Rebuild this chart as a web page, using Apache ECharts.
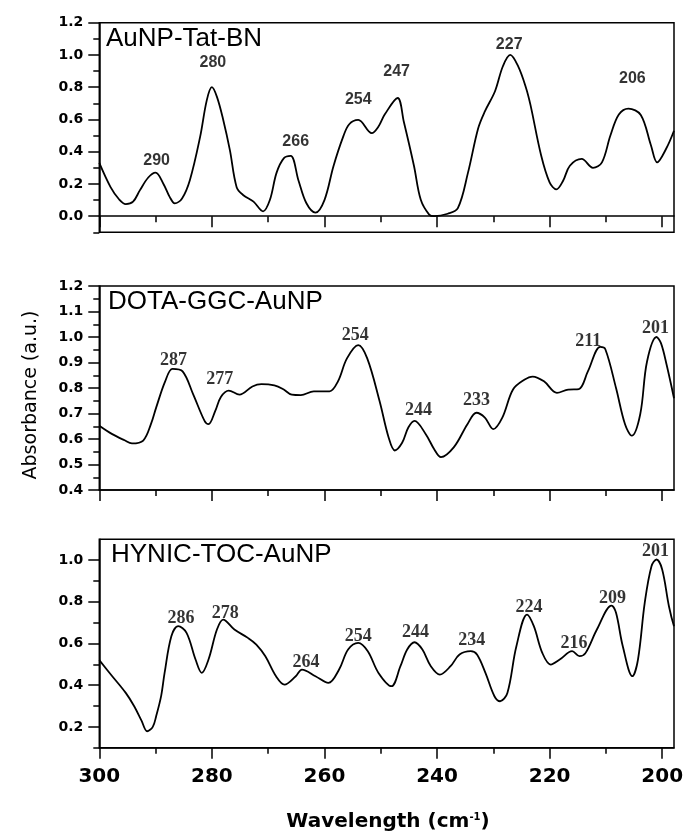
<!DOCTYPE html>
<html>
<head>
<meta charset="utf-8">
<script src="https://cdn.jsdelivr.net/npm/echarts@6/dist/echarts.min.js"></script>
<style>
  html, body { margin: 0; padding: 0; background: #fff; }
  #chart { width: 683px; height: 839px; }
</style>
</head>
<body>
<div id="chart"></div>
<script>
// Absorbance spectra, [wavelength, absorbance] pairs
const tatCurve = [
  [300, 0.33], [298, 0.18], [296.5, 0.105], [295.3, 0.075], [294, 0.09], [292.8, 0.16], [291.3, 0.24], [290, 0.27],
  [288.6, 0.2], [287.5, 0.12], [286.6, 0.08], [285.3, 0.11], [283.9, 0.225], [282.1, 0.49], [280.9, 0.72], [280, 0.8],
  [279.1, 0.74], [278, 0.6], [276.8, 0.41], [275.6, 0.18], [274.4, 0.13], [272.6, 0.09], [270.9, 0.03], [269.7, 0.1],
  [268.5, 0.27], [267.2, 0.36], [266, 0.374], [264.6, 0.22], [263.2, 0.08], [261.6, 0.022], [260, 0.1], [258.4, 0.31],
  [256.7, 0.49], [255.6, 0.57], [254, 0.597], [251.6, 0.515], [250.4, 0.556], [249.3, 0.63], [247, 0.733], [245.9, 0.586],
  [244.1, 0.313], [242.9, 0.103], [241.4, 0.01], [240.5, 0.0], [238.1, 0.015], [236.3, 0.05], [234.5, 0.27], [232.7, 0.544],
  [231.5, 0.65], [229.7, 0.775], [228.3, 0.93], [227, 1.0], [225.6, 0.93], [224.2, 0.797], [223.4, 0.69], [221.5, 0.376],
  [220, 0.21], [218.8, 0.166], [217.6, 0.22], [216.4, 0.313], [214.3, 0.355], [212.3, 0.3], [210.7, 0.334], [209.2, 0.5],
  [207.7, 0.63], [206, 0.667], [203.8, 0.628], [202, 0.44], [200.9, 0.334], [199.3, 0.418], [197.9, 0.53]
];
const dotaCurve = [
  [300, 0.652], [297.7, 0.619], [295.5, 0.595], [294.2, 0.583], [292.2, 0.594], [290.8, 0.66], [289.9, 0.723], [288.3, 0.826],
  [287, 0.875], [285.2, 0.865], [283.3, 0.774], [281.3, 0.671], [280.6, 0.658], [279.4, 0.71], [278.4, 0.765], [277, 0.79],
  [275.1, 0.774], [272.8, 0.806], [271.2, 0.815], [268.9, 0.81], [267.3, 0.795], [265.8, 0.774], [264.2, 0.772], [261.9, 0.787],
  [259.1, 0.787], [257.6, 0.826], [256, 0.916], [254, 0.968], [252.4, 0.916], [250.2, 0.748], [248.6, 0.606], [247.5, 0.555],
  [246.2, 0.585], [245.1, 0.645], [244, 0.671], [242, 0.619], [240.5, 0.56], [239.3, 0.529], [237, 0.568], [234.6, 0.658],
  [233, 0.703], [231.5, 0.684], [230, 0.639], [228.4, 0.684], [226.5, 0.794], [224.5, 0.832], [223, 0.845], [221, 0.826],
  [218.7, 0.781], [216.7, 0.794], [214.8, 0.796], [213.2, 0.865], [211, 0.961], [210.1, 0.952], [208.2, 0.8], [206.6, 0.658],
  [205.4, 0.613], [203.9, 0.697], [202.7, 0.903], [201, 1.0], [200.2, 0.975], [199.2, 0.89], [197.9, 0.76]
];
const hynicCurve = [
  [300, 0.52], [297.7, 0.443], [295.3, 0.363], [293.8, 0.299], [292.5, 0.23], [291.5, 0.179], [290.5, 0.2], [289.9, 0.251],
  [289, 0.35], [288.4, 0.459], [287.2, 0.635], [286, 0.683], [284.5, 0.651], [282.9, 0.523], [281.8, 0.459], [280.6, 0.523],
  [279.1, 0.667], [278, 0.715], [276, 0.667], [273.6, 0.627], [272.1, 0.595], [270.5, 0.539], [268.6, 0.443], [267.1, 0.403],
  [265.1, 0.443], [264, 0.475], [261.6, 0.443], [259.3, 0.411], [257.4, 0.475], [255.8, 0.571], [254, 0.603], [252.3, 0.563],
  [250.4, 0.459], [248.1, 0.395], [246.5, 0.491], [245.3, 0.571], [244, 0.606], [242.6, 0.571], [241.1, 0.491], [239.5, 0.451],
  [237.6, 0.491], [236, 0.547], [234, 0.563], [232.9, 0.547], [231.4, 0.459], [229.8, 0.347], [228.8, 0.323], [227.5, 0.363],
  [225.9, 0.587], [224, 0.739], [222.8, 0.683], [221.3, 0.555], [219.8, 0.499], [218.2, 0.523], [216, 0.563], [214.7, 0.539],
  [213.6, 0.555], [211.6, 0.667], [209, 0.782], [208.2, 0.747], [207, 0.587], [205.3, 0.443], [204.3, 0.523], [203.1, 0.795],
  [201.9, 0.971], [201, 1.003], [200, 0.955], [198.8, 0.779], [197.9, 0.683]
];

// Labelled band positions (wavelength of each peak)
const tatPeaks = [290, 280, 266, 254, 247, 227, 206];
const dotaPeaks = [287, 277, 254, 244, 233, 211, 201];
const hynicPeaks = [286, 278, 264, 254, 244, 234, 224, 216, 209, 201];

// Tick values
const xMajorTicks = [200, 220, 240, 260, 280, 300];
const xMinorTicks = [210, 230, 250, 270, 290];
const tatYMajor = [0, 0.2, 0.4, 0.6, 0.8, 1.0, 1.2];
const tatYMinor = [-0.1, 0.1, 0.3, 0.5, 0.7, 0.9, 1.1];
const dotaYMajor = [0.4, 0.5, 0.6, 0.7, 0.8, 0.9, 1.0, 1.1, 1.2];
const dotaYMinor = [0.45, 0.55, 0.65, 0.75, 0.85, 0.95, 1.05, 1.15];
const hynicYMajor = [0.2, 0.4, 0.6, 0.8, 1.0];
const hynicYMinor = [0.1, 0.3, 0.5, 0.7, 0.9];

const panelNames = ['AuNP-Tat-BN', 'DOTA-GGC-AuNP', 'HYNIC-TOC-AuNP'];

// label nudges in pixels [dx, dy] relative to the top of each peak
const tatLabelShift = [[1, -4], [1, -16], [5, -6], [0, -12], [-1, -18], [-1, -2], [4, -22]];
const dotaLabelShift = [[1, 1], [-9, -2], [-3, 0], [4, -1], [0, -3], [-12, 4], [-1, 1]];
const hynicLabelShift = [[3, 2], [2, 3], [4, 2], [0, 3], [1, 0], [1, -1], [2, 2], [2, 2], [1, 2], [-1, 1]];

const X_LEFT = 300, X_RIGHT = 197.9;

const panels = [
  { curve: tatCurve, peaks: tatPeaks, shift: tatLabelShift, yMin: -0.1, yMax: 1.2, major: tatYMajor, minor: tatYMinor,
    top: 22.7, height: 209.6, labelFont: { fontFamily: 'Liberation Sans', fontSize: 16, fontWeight: 'bold' }, xLabels: false },
  { curve: dotaCurve, peaks: dotaPeaks, shift: dotaLabelShift, yMin: 0.4, yMax: 1.2, major: dotaYMajor, minor: dotaYMinor,
    top: 286, height: 204, labelFont: { fontFamily: 'Liberation Serif', fontSize: 18, fontWeight: 'bold' }, xLabels: false },
  { curve: hynicCurve, peaks: hynicPeaks, shift: hynicLabelShift, yMin: 0.1, yMax: 1.1, major: hynicYMajor, minor: hynicYMinor,
    top: 539.3, height: 208.4, labelFont: { fontFamily: 'Liberation Serif', fontSize: 18, fontWeight: 'bold' }, xLabels: true }
];

const titleLeft = [106, 108, 111];
const titleCenterY = [38.5, 301.5, 555];

const ink = '#000';
const grid = [], xAxis = [], yAxis = [], series = [], title = [];

panels.forEach((p, i) => {
  grid.push({ left: 99.3, right: 9, top: p.top, height: p.height, show: true,
    borderColor: ink, borderWidth: 1.5, backgroundColor: 'transparent',
    containLabel: false, outerBoundsMode: 'none' });

  // major x ticks (with labels on the lowest panel)
  xAxis.push({
    type: 'value', gridIndex: i, position: 'bottom', min: X_RIGHT, max: X_LEFT, inverse: true,
    axisLine: { show: true, lineStyle: { color: ink, width: 1.5 } },
    axisTick: { show: true, length: 11, lineStyle: { color: ink, width: 1.5 }, customValues: xMajorTicks },
    axisLabel: { show: p.xLabels, customValues: xMajorTicks, margin: 19, color: ink, hideOverlap: false,
      fontFamily: 'DejaVu Sans', fontWeight: 'bold', fontSize: 20 },
    splitLine: { show: false }
  });
  // minor x ticks
  xAxis.push({
    type: 'value', gridIndex: i, position: 'bottom', min: X_RIGHT, max: X_LEFT, inverse: true,
    axisLine: { show: false },
    axisTick: { show: true, length: 6, lineStyle: { color: ink, width: 1.5 }, customValues: xMinorTicks },
    axisLabel: { show: false },
    splitLine: { show: false }
  });
  // major y ticks with labels
  yAxis.push({
    type: 'value', gridIndex: i, position: 'left', min: p.yMin, max: p.yMax,
    axisLine: { show: true, lineStyle: { color: ink, width: 1.5 } },
    axisTick: { show: true, length: 11, lineStyle: { color: ink, width: 1.5 }, customValues: p.major },
    axisLabel: { show: true, customValues: p.major, margin: 16, color: ink,
      fontFamily: 'DejaVu Sans', fontWeight: 'bold', fontSize: 14,
      formatter: v => v.toFixed(1) },
    splitLine: { show: false }
  });
  // minor y ticks
  yAxis.push({
    type: 'value', gridIndex: i, position: 'left', min: p.yMin, max: p.yMax,
    axisLine: { show: false },
    axisTick: { show: true, length: 6, lineStyle: { color: ink, width: 1.5 }, customValues: p.minor },
    axisLabel: { show: false },
    splitLine: { show: false }
  });

  series.push({
    type: 'line', xAxisIndex: 2 * i, yAxisIndex: 2 * i, data: p.curve,
    showSymbol: false, smooth: 0.35, silent: true,
    lineStyle: { color: ink, width: 1.8 }
  });

  // peak annotations, placed on the curve point at each labelled wavelength
  const peakData = p.peaks.map((w, k) => {
    const pt = p.curve.find(d => d[0] === w);
    return {
      value: [w, pt ? pt[1] : 0],
      label: { offset: p.shift[k] }
    };
  });
  series.push({
    type: 'scatter', xAxisIndex: 2 * i, yAxisIndex: 2 * i, data: peakData,
    symbolSize: 1, itemStyle: { color: 'rgba(0,0,0,0)' }, silent: true,
    label: {
      show: true, position: 'top', distance: 0, color: ink,
      fontFamily: p.labelFont.fontFamily, fontSize: p.labelFont.fontSize, fontWeight: p.labelFont.fontWeight,
      formatter: d => String(d.value[0])
    }
  });

  title.push({
    text: panelNames[i], left: titleLeft[i], top: titleCenterY[i] - 13, padding: 0,
    textStyle: { fontFamily: 'Liberation Sans', fontSize: 26, fontWeight: 'normal', color: ink }
  });
});

const chart = echarts.init(document.getElementById('chart'), null, { renderer: 'canvas' });
chart.setOption({
  animation: false,
  backgroundColor: '#fff',
  title, grid, xAxis, yAxis, series,
  graphic: [
    {
      type: 'text', x: 31, y: 395, rotation: Math.PI / 2,
      style: { text: 'Absorbance (a.u.)', fill: ink, font: '19px "DejaVu Sans"', textAlign: 'center', textVerticalAlign: 'middle' }
    },
    {
      type: 'text', x: 388, y: 822,
      style: {
        text: '{a|Wavelength (cm}{s|-1}{a|)}', textAlign: 'center', textVerticalAlign: 'middle', fill: ink,
        rich: {
          a: { fontFamily: 'DejaVu Sans', fontWeight: 'bold', fontSize: 20, color: ink },
          s: { fontFamily: 'DejaVu Sans', fontWeight: 'bold', fontSize: 10, color: ink, verticalAlign: 'top' }
        }
      }
    }
  ]
});
</script>
</body>
</html>
